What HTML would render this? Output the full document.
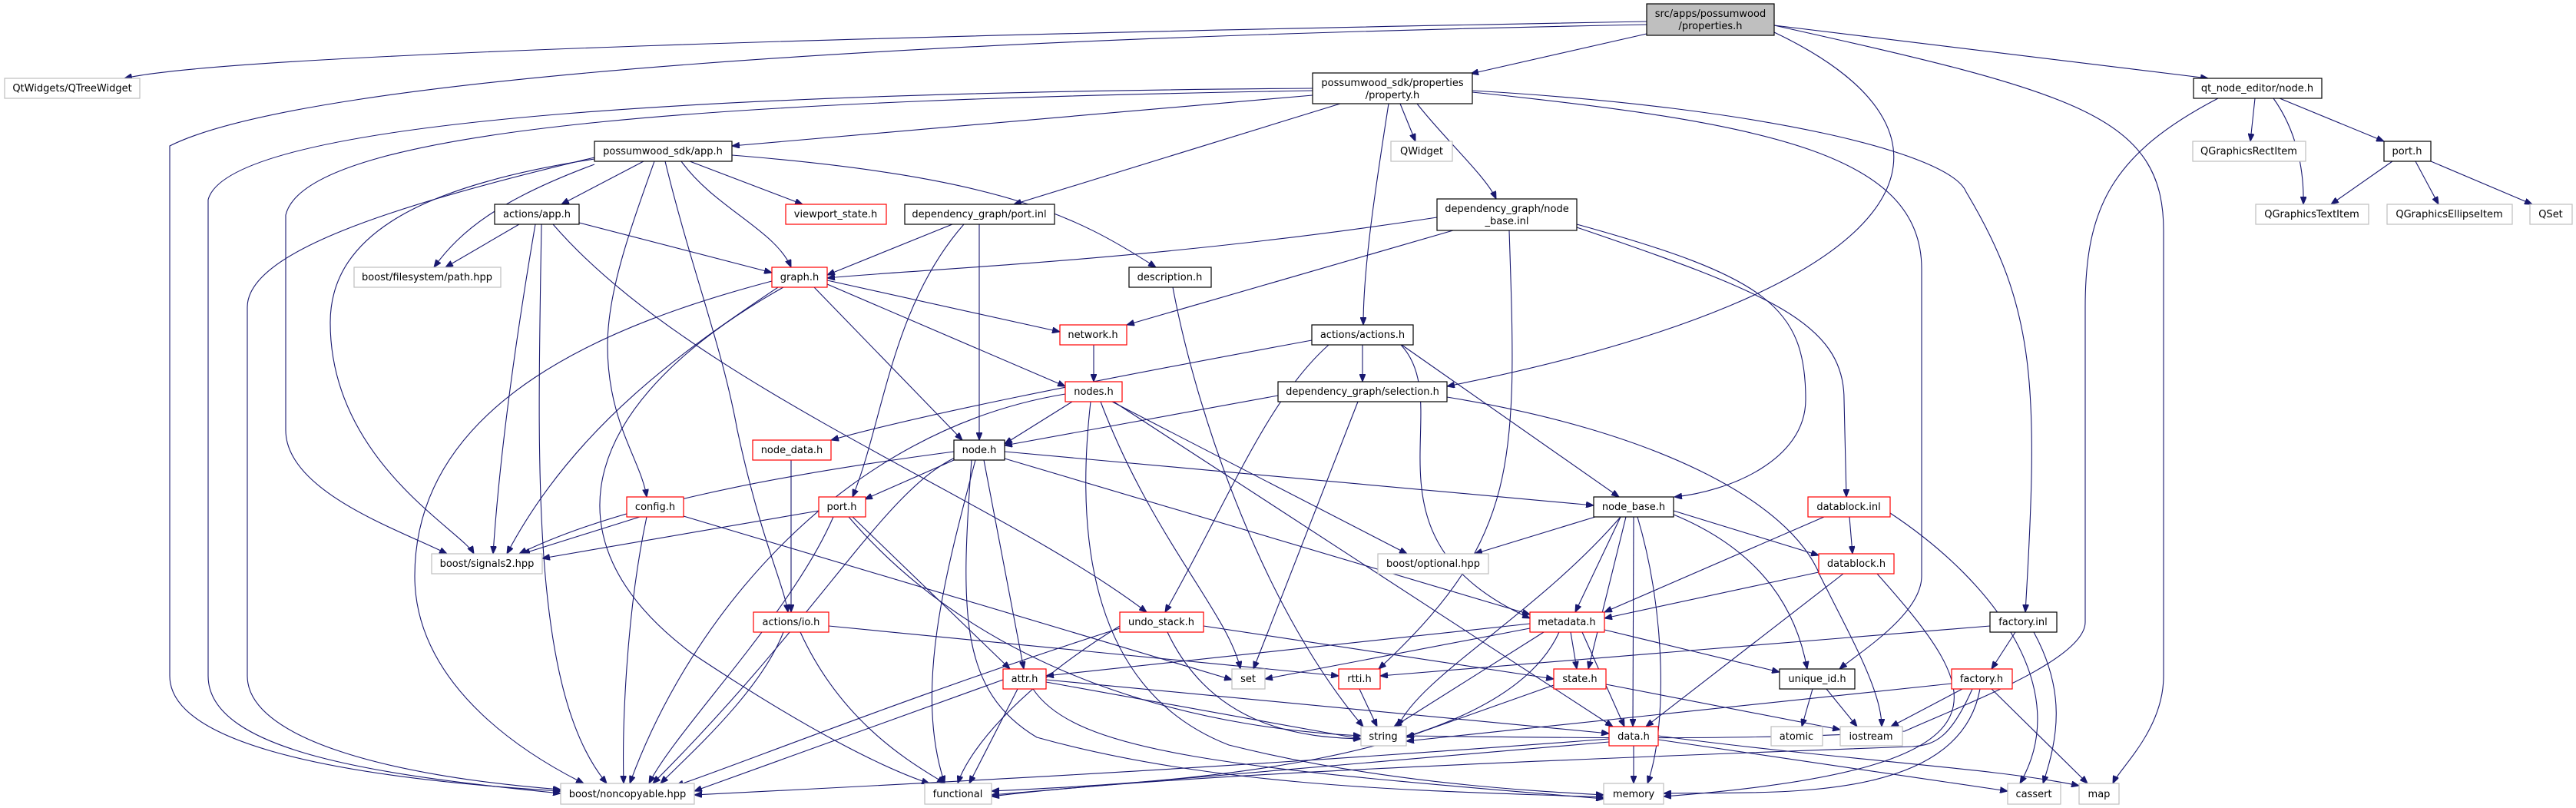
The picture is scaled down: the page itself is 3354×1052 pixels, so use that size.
<!DOCTYPE html>
<html><head><meta charset="utf-8">
<style>
html,body{margin:0;padding:0;background:#fff;}
svg{display:block;}
text{font-family:"DejaVu Sans","Liberation Sans",sans-serif;font-size:13px;text-anchor:middle;fill:#000;}
.e{fill:none;stroke:#191970;stroke-width:1.1;marker-end:url(#a);}
.b{fill:#fff;stroke:#000;stroke-width:1.2;}
.r{fill:#fff;stroke:#ff0000;stroke-width:1.2;}
.g{fill:#fff;stroke:#bfbfbf;stroke-width:1.2;}
</style></head>
<body>
<svg width="3354" height="1052" viewBox="0 0 3354 1052" xmlns="http://www.w3.org/2000/svg">
<defs><marker id="a" markerUnits="userSpaceOnUse" markerWidth="11" markerHeight="8" refX="10" refY="4" orient="auto"><path d="M0,0 L10,4 L0,8 z" fill="#191970" stroke="#191970"/></marker></defs>
<g>
<path class="e" d="M2144,28 C1200,45 300,70 162,102"/>
<path class="e" d="M2144,32 C1200,50 400,100 221,190 L221,880 C221,960 400,1010 730,1030"/>
<path class="e" d="M2144,44 L1915,96"/>
<path class="e" d="M2310,42 C2600,180 2500,380 1884,503"/>
<path class="e" d="M2310,33 L2875,102"/>
<path class="e" d="M2310,33 C2700,120 2817,150 2817,300 L2817,880 C2817,950 2760,1000 2751,1020"/>
<path class="e" d="M1709,115 C1000,120 300,150 271,260 L271,880 C271,980 500,1010 730,1033"/>
<path class="e" d="M1709,118 C1000,130 400,160 372,280 L372,560 C372,640 520,690 582,721"/>
<path class="e" d="M1709,124 L953,190"/>
<path class="e" d="M1745,135 L1320,266"/>
<path class="e" d="M1808,135 C1790,250 1775,350 1775,423"/>
<path class="e" d="M1823,135 L1843,184"/>
<path class="e" d="M1845,135 C1880,180 1935,230 1948,259"/>
<path class="e" d="M1917,120 C2300,160 2502,200 2502,350 L2502,750 C2502,800 2420,850 2395,871"/>
<path class="e" d="M1917,118 C2300,140 2540,200 2560,250 C2650,400 2655,500 2637,797"/>
<path class="e" d="M2936,128 L2930,184"/>
<path class="e" d="M2960,128 C2990,170 3000,220 2999,266"/>
<path class="e" d="M2968,128 L3104,184"/>
<path class="e" d="M2888,128 C2750,200 2715,270 2715,400 L2715,810 C2715,860 2550,920 2480,952 C2300,965 2000,960 1831,958"/>
<path class="e" d="M3115,210 L3035,266"/>
<path class="e" d="M3145,210 L3175,266"/>
<path class="e" d="M3165,210 L3297,266"/>
<path class="e" d="M838,210 L731,266"/>
<path class="e" d="M774,214 C650,260 600,300 565,348"/>
<path class="e" d="M887,210 C930,270 1010,300 1030,348"/>
<path class="e" d="M898,210 L1045,266"/>
<path class="e" d="M953,202 C1300,230 1400,280 1505,348"/>
<path class="e" d="M852,210 C820,300 791,380 791,450 C791,550 835,600 842,647"/>
<path class="e" d="M866,210 C900,350 940,450 960,560 C990,700 1020,760 1026,797"/>
<path class="e" d="M774,207 C560,240 430,300 430,420 C430,600 600,690 617,721"/>
<path class="e" d="M774,205 C500,270 322,330 322,400 L322,880 C322,960 500,1010 730,1028"/>
<path class="e" d="M676,292 L580,348"/>
<path class="e" d="M754,290 L1005,355"/>
<path class="e" d="M697,292 C670,450 650,600 642,721"/>
<path class="e" d="M705,292 C700,600 690,900 790,1020"/>
<path class="e" d="M720,292 C900,500 1300,650 1493,797"/>
<path class="e" d="M1240,292 L1077,358"/>
<path class="e" d="M1275,292 L1275,573"/>
<path class="e" d="M1255,292 C1160,400 1150,550 1110,647"/>
<path class="e" d="M1871,283 C1500,340 1200,350 1077,362"/>
<path class="e" d="M1892,300 L1467,423"/>
<path class="e" d="M2053,292 C2300,360 2351,400 2351,520 C2351,600 2250,640 2180,647"/>
<path class="e" d="M2053,296 C2300,380 2401,420 2401,520 L2404,647"/>
<path class="e" d="M1965,300 C1975,600 1980,700 1795,871"/>
<path class="e" d="M1527,374 C1560,550 1650,800 1775,946"/>
<path class="e" d="M1077,365 L1380,432"/>
<path class="e" d="M1077,370 L1387,503"/>
<path class="e" d="M1060,374 L1253,573"/>
<path class="e" d="M1013,374 C900,450 750,550 660,721"/>
<path class="e" d="M1005,366 C800,420 540,520 540,750 C540,900 700,990 760,1020"/>
<path class="e" d="M1020,374 C760,520 700,700 900,850 C1050,950 1150,1000 1210,1020"/>
<path class="e" d="M1424,449 L1424,497"/>
<path class="e" d="M1774,449 L1774,497"/>
<path class="e" d="M1708,443 C1400,500 1200,540 1082,573"/>
<path class="e" d="M1730,449 C1650,520 1600,650 1517,797"/>
<path class="e" d="M1825,449 L2108,647"/>
<path class="e" d="M1824,449 C1900,530 1760,700 1992,805"/>
<path class="e" d="M1664,515 L1308,580"/>
<path class="e" d="M1768,523 L1632,871"/>
<path class="e" d="M1884,517 C2150,560 2330,650 2370,750 C2410,830 2450,900 2450,946"/>
<path class="e" d="M1396,523 L1308,578"/>
<path class="e" d="M1387,513 C1100,560 900,800 820,1020"/>
<path class="e" d="M1448,523 L1832,721"/>
<path class="e" d="M1433,523 C1500,700 1600,800 1615,871"/>
<path class="e" d="M1420,523 C1400,700 1420,900 1600,970 C1800,1020 2000,1030 2088,1035"/>
<path class="e" d="M1450,523 L2100,946"/>
<path class="e" d="M1030,599 L1030,797"/>
<path class="e" d="M1242,588 C1000,620 800,660 676,721"/>
<path class="e" d="M1242,599 L1126,650"/>
<path class="e" d="M1308,588 L2075,658"/>
<path class="e" d="M1281,599 L1333,871"/>
<path class="e" d="M1270,599 C1230,750 1190,900 1230,1020"/>
<path class="e" d="M1265,599 C1250,800 1250,900 1350,960 C1600,1030 1900,1030 2088,1038"/>
<path class="e" d="M1245,595 C1150,640 1070,800 850,1020"/>
<path class="e" d="M1308,597 L1992,800"/>
<path class="e" d="M833,673 L680,721"/>
<path class="e" d="M842,673 C815,800 810,950 812,1020"/>
<path class="e" d="M890,672 L1604,885"/>
<path class="e" d="M1066,665 L706,727"/>
<path class="e" d="M1085,673 C1030,800 880,950 845,1020"/>
<path class="e" d="M1110,673 L1315,871"/>
<path class="e" d="M1105,673 C1300,900 1600,950 1772,958"/>
<path class="e" d="M1020,823 C990,900 900,980 860,1020"/>
<path class="e" d="M1042,823 C1100,950 1200,1000 1230,1020"/>
<path class="e" d="M1079,815 L1743,880"/>
<path class="e" d="M1458,818 C1200,900 950,1000 880,1023"/>
<path class="e" d="M1458,815 C1320,900 1260,980 1247,1020"/>
<path class="e" d="M1520,823 C1580,950 1700,960 1772,962"/>
<path class="e" d="M1567,815 L2023,884"/>
<path class="e" d="M2077,673 L1920,721"/>
<path class="e" d="M2110,673 L2051,797"/>
<path class="e" d="M2179,665 L2368,723"/>
<path class="e" d="M2179,670 C2300,720 2340,800 2353,871"/>
<path class="e" d="M2110,673 C2000,800 1850,880 1820,946"/>
<path class="e" d="M2117,673 L2068,871"/>
<path class="e" d="M2127,673 L2126,946"/>
<path class="e" d="M2132,673 C2170,800 2170,950 2145,1020"/>
<path class="e" d="M2408,673 L2412,721"/>
<path class="e" d="M2375,673 L2089,797"/>
<path class="e" d="M2461,668 C2600,760 2700,900 2630,1020"/>
<path class="e" d="M2368,745 L2089,805"/>
<path class="e" d="M2400,747 L2143,946"/>
<path class="e" d="M2444,747 C2580,900 2650,1000 2166,1037"/>
<path class="e" d="M1992,812 L1362,880"/>
<path class="e" d="M1992,818 L1647,884"/>
<path class="e" d="M2010,823 L1815,946"/>
<path class="e" d="M2045,823 L2053,871"/>
<path class="e" d="M2060,823 L2115,946"/>
<path class="e" d="M2089,820 L2317,875"/>
<path class="e" d="M2030,823 C1950,1000 1500,1020 1291,1030"/>
<path class="e" d="M2624,823 L2593,871"/>
<path class="e" d="M2591,815 L1797,880"/>
<path class="e" d="M2648,823 C2690,900 2680,960 2660,1020"/>
<path class="e" d="M1325,897 L1262,1020"/>
<path class="e" d="M1306,885 L904,1030"/>
<path class="e" d="M1362,888 L1772,962"/>
<path class="e" d="M1362,885 L2095,955"/>
<path class="e" d="M1345,897 C1400,980 1600,1000 2088,1040"/>
<path class="e" d="M1770,897 L1793,946"/>
<path class="e" d="M2023,892 L1831,960"/>
<path class="e" d="M2091,891 L2396,950"/>
<path class="e" d="M2095,962 C1600,1000 1200,1020 904,1035"/>
<path class="e" d="M2095,966 L1291,1035"/>
<path class="e" d="M2127,971 L2127,1020"/>
<path class="e" d="M2159,963 L2614,1030"/>
<path class="e" d="M2159,958 C2400,990 2600,1000 2707,1023"/>
<path class="e" d="M2360,897 L2346,946"/>
<path class="e" d="M2378,897 L2418,946"/>
<path class="e" d="M2555,897 L2462,946"/>
<path class="e" d="M2593,897 L2718,1020"/>
<path class="e" d="M2578,897 C2550,1050 2300,1030 2166,1033"/>
<path class="e" d="M2541,890 L1831,965"/>
<path class="e" d="M2568,897 C2540,960 2520,970 2490,972 C2000,990 1500,1010 1291,1037"/>
</g>
<g>
<rect x="2144" y="5" width="166" height="41" fill="#bfbfbf" stroke="#000" stroke-width="1.2"/>
<text x="2227" y="22">src/apps/possumwood</text><text x="2227" y="38">/properties.h</text>
<rect class="g" x="6" y="102" width="176" height="26"/><text x="94" y="119">QtWidgets/QTreeWidget</text>
<rect class="b" x="1709" y="95" width="208" height="40"/><text x="1813" y="112">possumwood_sdk/properties</text><text x="1813" y="128">/property.h</text>
<rect class="b" x="2856" y="102" width="167" height="26"/><text x="2939" y="119">qt_node_editor/node.h</text>
<rect class="b" x="774" y="184" width="179" height="26"/><text x="863" y="201">possumwood_sdk/app.h</text>
<rect class="g" x="1811" y="184" width="80" height="26"/><text x="1851" y="201">QWidget</text>
<rect class="g" x="2855" y="184" width="147" height="26"/><text x="2928" y="201">QGraphicsRectItem</text>
<rect class="b" x="3104" y="184" width="61" height="26"/><text x="3134" y="201">port.h</text>
<rect class="b" x="644" y="266" width="110" height="26"/><text x="699" y="283">actions/app.h</text>
<rect class="r" x="1023" y="266" width="131" height="26"/><text x="1088" y="283">viewport_state.h</text>
<rect class="b" x="1178" y="266" width="195" height="26"/><text x="1275" y="283">dependency_graph/port.inl</text>
<rect class="b" x="1871" y="259" width="182" height="41"/><text x="1962" y="276">dependency_graph/node</text><text x="1962" y="292">_base.inl</text>
<rect class="g" x="2937" y="266" width="147" height="26"/><text x="3010" y="283">QGraphicsTextItem</text>
<rect class="g" x="3108" y="266" width="163" height="26"/><text x="3189" y="283">QGraphicsEllipseItem</text>
<rect class="g" x="3294" y="266" width="55" height="26"/><text x="3321" y="283">QSet</text>
<rect class="g" x="461" y="348" width="191" height="26"/><text x="556" y="365">boost/filesystem/path.hpp</text>
<rect class="r" x="1005" y="348" width="72" height="26"/><text x="1041" y="365">graph.h</text>
<rect class="b" x="1470" y="348" width="107" height="26"/><text x="1523" y="365">description.h</text>
<rect class="r" x="1380" y="423" width="87" height="26"/><text x="1423" y="440">network.h</text>
<rect class="b" x="1708" y="423" width="132" height="26"/><text x="1774" y="440">actions/actions.h</text>
<rect class="r" x="1387" y="497" width="74" height="26"/><text x="1424" y="514">nodes.h</text>
<rect class="b" x="1664" y="497" width="220" height="26"/><text x="1774" y="514">dependency_graph/selection.h</text>
<rect class="r" x="980" y="573" width="102" height="26"/><text x="1031" y="590">node_data.h</text>
<rect class="b" x="1242" y="573" width="66" height="26"/><text x="1275" y="590">node.h</text>
<rect class="r" x="816" y="647" width="74" height="26"/><text x="853" y="664">config.h</text>
<rect class="r" x="1066" y="647" width="61" height="26"/><text x="1096" y="664">port.h</text>
<rect class="b" x="2075" y="647" width="104" height="26"/><text x="2127" y="664">node_base.h</text>
<rect class="r" x="2354" y="647" width="107" height="26"/><text x="2407" y="664">datablock.inl</text>
<rect class="g" x="562" y="721" width="144" height="26"/><text x="634" y="738">boost/signals2.hpp</text>
<rect class="g" x="1794" y="721" width="144" height="26"/><text x="1866" y="738">boost/optional.hpp</text>
<rect class="r" x="2368" y="721" width="98" height="26"/><text x="2417" y="738">datablock.h</text>
<rect class="r" x="981" y="797" width="98" height="26"/><text x="1030" y="814">actions/io.h</text>
<rect class="r" x="1458" y="797" width="109" height="26"/><text x="1512" y="814">undo_stack.h</text>
<rect class="r" x="1992" y="797" width="97" height="26"/><text x="2040" y="814">metadata.h</text>
<rect class="b" x="2591" y="797" width="87" height="26"/><text x="2634" y="814">factory.inl</text>
<rect class="r" x="1306" y="871" width="56" height="26"/><text x="1334" y="888">attr.h</text>
<rect class="g" x="1604" y="871" width="43" height="26"/><text x="1625" y="888">set</text>
<rect class="r" x="1743" y="871" width="54" height="26"/><text x="1770" y="888">rtti.h</text>
<rect class="r" x="2023" y="871" width="68" height="26"/><text x="2057" y="888">state.h</text>
<rect class="b" x="2317" y="871" width="98" height="26"/><text x="2366" y="888">unique_id.h</text>
<rect class="r" x="2541" y="871" width="79" height="26"/><text x="2580" y="888">factory.h</text>
<rect class="g" x="1772" y="946" width="59" height="25"/><text x="1801" y="963">string</text>
<rect class="r" x="2095" y="946" width="64" height="25"/><text x="2127" y="963">data.h</text>
<rect class="g" x="2306" y="946" width="67" height="25"/><text x="2339" y="963">atomic</text>
<rect class="g" x="2396" y="946" width="81" height="25"/><text x="2436" y="963">iostream</text>
<rect class="g" x="730" y="1020" width="174" height="27"/><text x="817" y="1038">boost/noncopyable.hpp</text>
<rect class="g" x="1204" y="1020" width="87" height="27"/><text x="1247" y="1038">functional</text>
<rect class="g" x="2088" y="1020" width="78" height="27"/><text x="2127" y="1038">memory</text>
<rect class="g" x="2614" y="1020" width="69" height="27"/><text x="2648" y="1038">cassert</text>
<rect class="g" x="2707" y="1020" width="52" height="27"/><text x="2733" y="1038">map</text>
</g>
</svg>
</body></html>
